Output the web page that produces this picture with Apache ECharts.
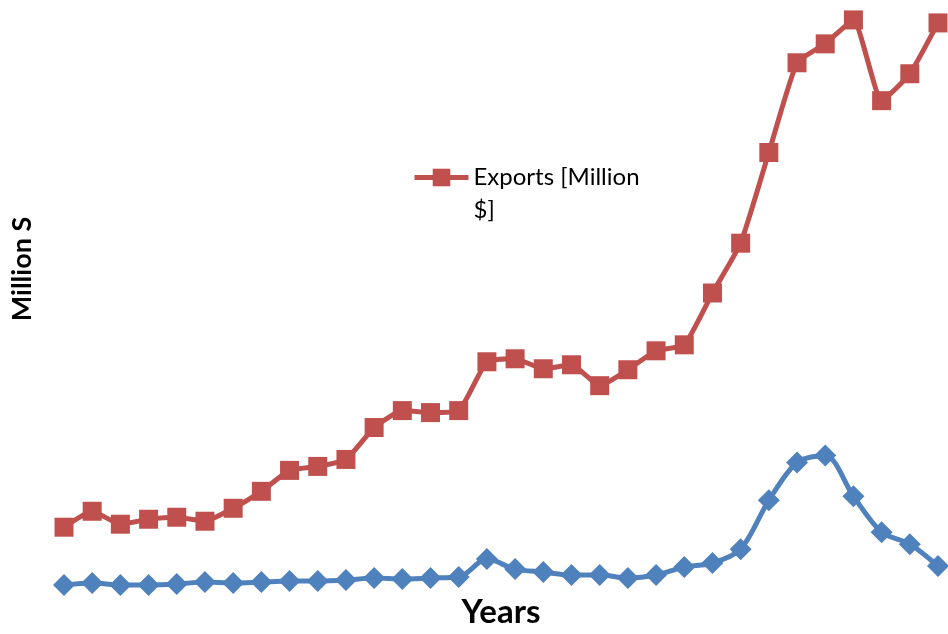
<!DOCTYPE html>
<html>
<head>
<meta charset="utf-8">
<script src="https://cdn.jsdelivr.net/npm/echarts@6/dist/echarts.min.js"></script>
<style>html,body{margin:0;padding:0;background:#fff}#c{width:948px;height:634px}</style>
</head>
<body>
<div id="c"></div>
<script>
var years = ['1980','1981','1982','1983','1984','1985','1986','1987','1988','1989','1990','1991','1992','1993','1994','1995','1996','1997','1998','1999','2000','2001','2002','2003','2004','2005','2006','2007','2008','2009','2010','2011'];
var exportsVals = [72,88,75,80,82,78,91,108,129,133,140,172,189,187,189,238,241,231,235,214,230,249,255,307,357,448,538,557,581,500,527,578];
var importsVals = [14,16,14,14,15,17,16,17,18,18,19,21,20,21,22,40,30,27,24,24,21,24,32,36,50,99,137,144,103,67,55,33];

var chart = echarts.init(document.getElementById('c'));
chart.setOption({
  animation: false,
  backgroundColor: '#fff',
  grid: {left: 64, right: 10, top: 0, bottom: 44},
  legend: {
    data: ['Exports [Million $]'],
    left: 412, top: 128, padding: 0,
    itemWidth: 54, itemHeight: 22, itemGap: 0,
    lineStyle: {width: 5},
    formatter: function (name) { return '\n' + name.replace('Million $', 'Million\n$'); },
    textStyle: {fontFamily: 'Lato', fontSize: 24, color: '#000', lineHeight: 33}
  },
  xAxis: {
    type: 'category', data: years, boundaryGap: false,
    name: 'Years', nameLocation: 'middle', nameGap: 8,
    nameTextStyle: {fontFamily: 'Lato', fontSize: 33, fontWeight: 'bold', color: '#000'},
    axisLine: {show: false}, axisTick: {show: false}, axisLabel: {show: false}, splitLine: {show: false}
  },
  yAxis: {
    type: 'value', min: 11, max: 601,
    name: 'Million S', nameLocation: 'middle', nameRotate: 90, nameGap: 28,
    nameTextStyle: {fontFamily: 'Lato', fontSize: 27, fontWeight: 'bold', color: '#000', padding: [0, 0, 0, 50]},
    axisLine: {show: false}, axisTick: {show: false}, axisLabel: {show: false}, splitLine: {show: false}
  },
  series: [
    {
      name: 'Imports [Million $]', type: 'line', data: importsVals, smooth: 0.3,
      showSymbol: true, showAllSymbol: true,
      symbol: 'diamond', symbolSize: 22, clip: false,
      lineStyle: {color: '#4F81BD', width: 5},
      itemStyle: {color: '#4F81BD'}
    },
    {
      name: 'Exports [Million $]', type: 'line', data: exportsVals, smooth: 0.15,
      showSymbol: true, showAllSymbol: true,
      symbol: 'rect', symbolSize: 19, clip: false,
      lineStyle: {color: '#C0504D', width: 5},
      itemStyle: {color: '#C0504D'}
    }
  ]
});
</script>
</body>
</html>
